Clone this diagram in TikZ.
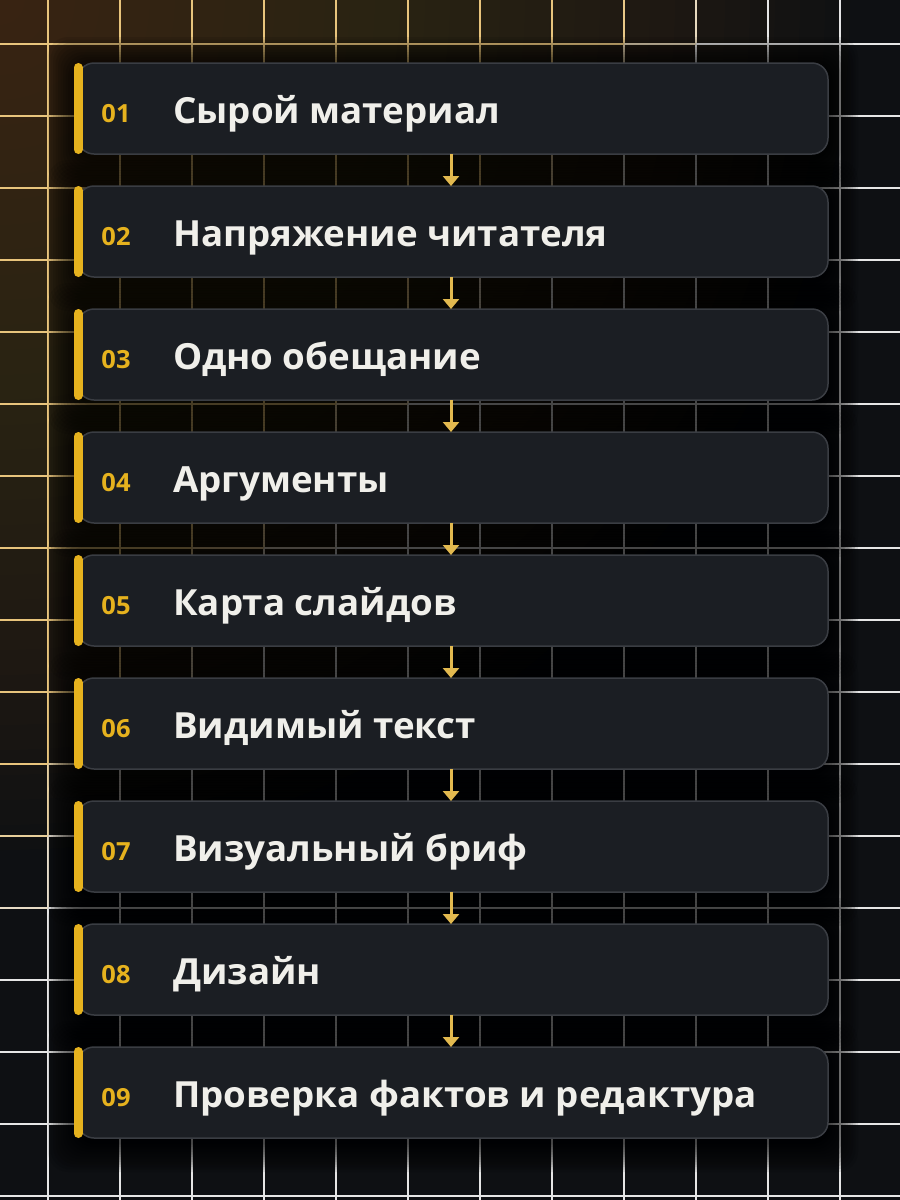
\documentclass[tikz,border=0pt]{standalone}
\usepackage{fontspec}
\setmainfont{Open Sans}[FakeStretch=1.02]
\usetikzlibrary{positioning,arrows.meta}

\definecolor{pagebg}{HTML}{0E1013}
\definecolor{glowgold}{HTML}{553F12}
\definecolor{gridgold}{HTML}{E8C47C}
\definecolor{gridwhite}{HTML}{E6E6E6}
\definecolor{cardfill}{HTML}{1B1E23}
\definecolor{cardline}{HTML}{3A3D43}
\definecolor{accent}{HTML}{E6B21E}
\definecolor{flowgold}{HTML}{E2B94F}
\definecolor{labelwhite}{HTML}{F0EFEA}

\tikzset{
  gridline/.style={line width=1.2pt},
  stepcard/.style={draw=cardline, line width=1.5pt, fill=cardfill, rounded corners=16pt,
    minimum width=750pt, minimum height=91pt, inner sep=0pt, outer sep=0pt, anchor=west},
  stepbar/.style={draw=accent, line width=9pt, line cap=round},
  stepnum/.style={text=accent, font=\bfseries\fontsize{25}{28}\selectfont, anchor=base, inner sep=0pt},
  steplabel/.style={text=labelwhite, font=\bfseries\fontsize{36}{40}\selectfont, anchor=base west, inner sep=0pt},
  flowarrow/.style={draw=flowgold, line width=3pt, -{Triangle[width=16pt, length=10pt]}}
}

\begin{document}
\begin{tikzpicture}[x=1pt, y=-1pt]
\useasboundingbox (0,0) rectangle (900,1200);
\clip (0,0) rectangle (900,1200);

% background and glow
\fill[pagebg] (0,0) rectangle (900,1200);
\foreach \r in {25,50,...,850}
  \fill[glowgold, opacity=0.035] (0,0) circle (\r pt);

% grid
\foreach \gx in {48,120,...,840} {
  \foreach \gy in {-28,44,...,1196} {
    \pgfmathsetmacro\mix{max(0,min(100,(980-1.3*\gx-\gy-36)/1.8))}
    \draw[gridline, draw=gridgold!\mix!gridwhite] (\gx,\gy) -- (\gx,\gy+72);
  }
}
\foreach \gy in {44,116,...,1196} {
  \foreach \gx in {-24,48,...,840} {
    \pgfmathsetmacro\mix{max(0,min(100,(980-1.3*\gx-46.8-\gy)/1.8))}
    \draw[gridline, draw=gridgold!\mix!gridwhite] (\gx,\gy) -- (\gx+72,\gy);
  }
}

% shadows
\foreach \i in {1,...,9} {
  \pgfmathsetmacro\ct{63+123*(\i-1)}
  \foreach \k in {1,...,12}
    \fill[black, opacity=0.09, rounded corners=20pt]
      (78-\k*2.5, \ct-\k*2.5+4) rectangle (828+\k*2.5, \ct+91+\k*2.5+4);
}

% steps
\foreach \lbl [count=\i] in {Сырой материал, Напряжение читателя, Одно обещание, Аргументы,
    Карта слайдов, Видимый текст, Визуальный бриф, Дизайн, Проверка фактов и редактура} {
  \pgfmathsetmacro\cy{108.5+123*(\i-1)}
  \node[stepcard] (b\i) at (78,\cy) {};
  \draw[stepbar] ([yshift=-4.5pt]b\i.north west) -- ([yshift=4.5pt]b\i.south west);
  \node[stepnum] (n\i) at ([xshift=38pt, yshift=-13.5pt]b\i.west) {0\i};
  \node[steplabel] (t\i) at ([xshift=95pt, yshift=-14.5pt]b\i.west) {\lbl};
}

% arrows
\foreach \i [count=\n from 2] in {1,...,8}
  \draw[flowarrow] ([xshift=-2pt]b\i.south) -- ([xshift=-2pt]b\n.north);
\end{tikzpicture}
\end{document}
